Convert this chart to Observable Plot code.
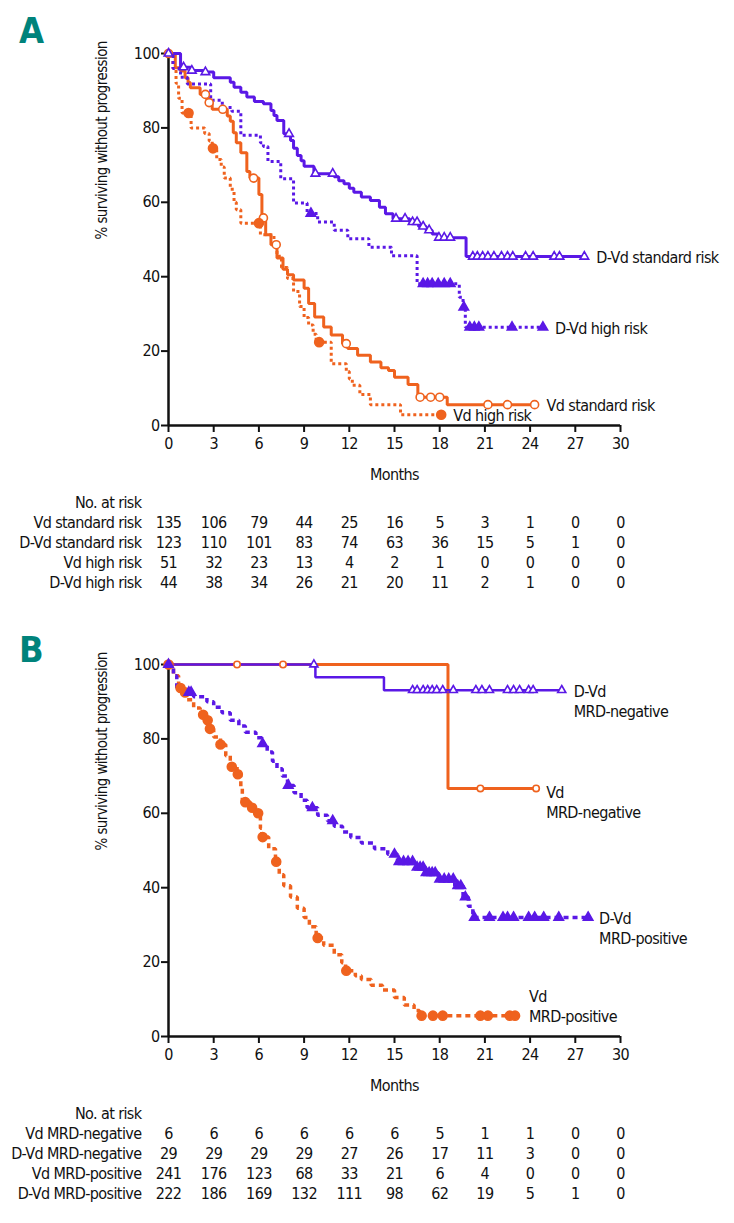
<!DOCTYPE html>
<html><head><meta charset="utf-8">
<script src="https://cdn.jsdelivr.net/npm/d3@7"></script>
<script src="https://cdn.jsdelivr.net/npm/@observablehq/plot@0.6"></script>
<style>
body{margin:0;background:#fff;font-family:"Liberation Sans Narrow","DejaVu Sans Condensed",sans-serif;}
.panel{position:relative;width:734px;height:611px;overflow:hidden;}
.tag{position:absolute;left:19px;top:13px;font-size:36px;font-weight:bold;color:#00837b;line-height:1;}
svg{display:block}
</style></head>
<body>
<div id="A" class="panel"><div class="tag">A</div></div>
<div id="B" class="panel"><div class="tag" style="top:21px">B</div></div>
<script>
const xTicks = [0,3,6,9,12,15,18,21,24,27,30];
const yTicks = [0,20,40,60,80,100];

// ---- Panel A: step data [months, % surviving], end of follow-up, censor times
const vdStdSteps = [[0,100],[0.45,96.2],[0.8,95.3],[1.1,93.5],[1.3,92.2],[1.45,90.8],[2.1,89.0],[2.55,86.8],[2.9,85.0],[3.9,83.2],[4.1,81.8],[4.3,78.7],[4.5,76.0],[4.8,73.3],[5.2,68.3],[5.4,66.5],[6.0,62.1],[6.2,55.8],[6.45,51.3],[6.8,48.6],[7.2,45.0],[7.6,42.0],[7.9,40.5],[8.3,39.1],[9.0,36.9],[9.3,32.8],[9.7,29.2],[10.3,26.5],[10.8,24.3],[11.55,22.0],[11.9,20.7],[12.55,18.9],[13.4,17.1],[14.1,15.5],[14.6,14.8],[15.0,13.0],[15.9,11.0],[16.55,7.6],[18.5,5.6]];
const vdStdEnd = 24.3;
const vdStdCensor = [0,2.45,2.7,3.6,5.65,6.3,7.15,11.8,16.7,17.4,18.0,21.2,22.5,24.3];

const dvdStdSteps = [[0,100],[0.8,96.3],[1.5,95.4],[2.3,95.0],[3.0,93.5],[4.1,92.3],[4.35,90.9],[4.8,89.6],[5.2,88.3],[5.7,87.1],[6.3,86.5],[6.8,84.7],[7.0,83.3],[7.2,82.0],[7.65,78.4],[8.1,76.6],[8.3,74.5],[8.55,72.6],[8.8,71.2],[9.0,69.7],[9.65,67.7],[11.0,66.9],[11.3,65.8],[11.65,65.0],[12.0,63.8],[12.3,62.7],[12.8,61.4],[13.4,60.5],[14.0,58.7],[14.4,56.9],[14.9,55.6],[16.0,54.7],[16.6,53.5],[17.1,52.5],[17.5,51.5],[17.9,50.5],[19.75,45.4]];
const dvdStdEnd = 27.6;
const dvdStdCensor = [0,1.0,1.55,2.45,8.0,9.75,10.9,15.1,15.7,16.2,16.5,16.9,17.3,17.95,18.3,18.7,20.2,20.5,20.85,21.2,21.6,22.1,22.5,22.85,23.7,24.2,25.6,25.95,27.6];

const vdHighSteps = [[0,100],[0.3,96],[0.5,92],[0.67,88],[0.9,84],[1.5,80],[2.4,78.5],[2.7,76.5],[2.9,74.5],[3.2,71.5],[3.5,69.5],[3.7,66.5],[4.1,63.5],[4.35,60],[4.5,58],[4.8,54.4],[6.1,51.3],[7.0,48.5],[7.2,45.5],[7.5,42.5],[7.9,39.5],[8.3,36],[8.7,32],[9.0,29],[9.3,27],[9.6,24.5],[9.8,22.4],[10.8,16.6],[11.8,14.5],[12.0,12.5],[12.2,10.8],[12.7,8.3],[13.4,5.6],[15.4,2.9]];
const vdHighEnd = 18.1;
const vdHighCensor = [1.33,2.95,6.0,10.0,18.1];

const dvdHighSteps = [[0,100],[0.3,96],[0.8,93.6],[1.25,91.8],[2.8,87.4],[3.57,85.5],[4.2,84.5],[4.8,78],[6.1,76],[6.3,75],[6.6,71],[7.45,66.3],[8.3,59.8],[9.2,57],[9.9,54.7],[11.0,52.5],[11.9,50.2],[13.3,47.9],[14.8,45.6],[16.5,38.1],[19.3,34.5],[19.55,31.8],[19.7,26.4]];
const dvdHighEnd = 24.85;
const dvdHighCensor = [9.45,16.9,17.2,17.5,17.9,18.3,18.7,19.6,20.0,20.3,20.6,22.8,24.85];

const riskRowsA = ["Vd standard risk","D-Vd standard risk","Vd high risk","D-Vd high risk"];
const riskVdStd   = [135,106,79,44,25,16,5,3,1,0,0];
const riskDvdStd  = [123,110,101,83,74,63,36,15,5,1,0];
const riskVdHigh  = [51,32,23,13,4,2,1,0,0,0,0];
const riskDvdHigh = [44,38,34,26,21,20,11,2,1,0,0];

// ---- Panel B
const vdNegSteps = [[0,100],[18.55,66.7]];
const vdNegEnd = 24.4;
const vdNegCensor = [4.55,7.6,20.7,24.4];

const dvdNegSteps = [[0,100],[9.75,96.6],[14.3,93.1]];
const dvdNegEnd = 26.1;
const dvdNegCensor = [9.65,16.2,16.5,16.9,17.2,17.5,17.8,18.2,18.9,20.4,20.8,21.3,22.5,22.9,23.3,23.9,24.2,26.1];

const vdPosSteps = [[0,100],[0.33,97],[0.67,93.7],[1.0,92.5],[1.2,90.5],[1.67,88.3],[2.1,86.5],[2.45,85],[2.67,82.7],[3.0,80.5],[3.45,78.5],[3.8,75.5],[4.1,72.5],[4.55,70.5],[4.8,67],[4.9,63],[5.45,61.5],[5.9,60],[6.1,56],[6.2,53.6],[6.65,50.5],[7.1,47],[7.35,43.5],[7.65,40.5],[8.1,37.5],[8.55,34.5],[9.0,32],[9.35,29.5],[9.8,26.5],[10.3,24.5],[11.0,22],[11.5,19.8],[11.75,17.7],[12.4,16.3],[12.8,15.3],[13.45,13.8],[14.2,12.5],[15.0,10.5],[15.65,8.5],[16.3,7],[16.65,5.6]];
const vdPosEnd = 23.0;
const vdPosCensor = [0,0.8,1.1,2.3,2.6,2.75,3.45,4.2,4.6,5.1,5.55,5.95,6.25,7.15,9.9,11.8,16.8,17.55,18.2,20.7,21.2,22.65,23.0];

const dvdPosSteps = [[0,100],[0.33,97],[0.55,93.5],[0.9,92.5],[1.67,91.3],[2.55,90],[3.0,88.5],[3.55,87],[4.1,85],[4.67,83.5],[5.1,81.8],[5.8,80.3],[6.2,78.7],[6.55,76.5],[6.9,74],[7.2,72],[7.55,70],[7.9,67.5],[8.33,65.5],[8.8,63.5],[9.2,61.5],[9.9,59.5],[10.55,58],[11.0,56.5],[11.55,55],[12.1,53.5],[12.8,52],[13.67,50.5],[14.55,49],[15.2,47],[16.3,45.5],[17.0,44],[17.9,42.3],[19.0,40.5],[19.55,37.5],[19.9,35],[20.2,32.0]];
const dvdPosEnd = 27.85;
const dvdPosCensor = [0,1.35,1.5,6.25,7.95,9.55,10.9,15.0,15.3,15.6,15.9,16.2,16.5,16.7,16.9,17.1,17.3,17.5,17.7,18.0,18.3,18.6,18.9,19.2,19.4,19.7,20.3,21.3,22.2,22.5,22.9,23.9,24.3,24.9,25.9,27.85];

const riskRowsB = ["Vd MRD-negative","D-Vd MRD-negative","Vd MRD-positive","D-Vd MRD-positive"];
const riskVdNeg  = [6,6,6,6,6,6,5,1,1,0,0];
const riskDvdNeg = [29,29,29,29,27,26,17,11,3,0,0];
const riskVdPos  = [241,176,123,68,33,21,6,4,0,0,0];
const riskDvdPos = [222,186,169,132,111,98,62,19,5,1,0];

// ---- styling
const PURPLE = "#5a18e6", ORANGE = "#ef621e";
const FONT = '"Liberation Sans Narrow","DejaVu Sans Condensed",sans-serif';
const STYLE = {fontFamily: FONT, fontSize: "16px", color: "#111", background: "transparent", overflow: "visible", letterSpacing: "-0.6px"};

function survAt(steps, t) { let v = steps[0][1]; for (const [tt, vv] of steps) if (tt <= t) v = vv; return v; }

function curveChart(series) {
  const marks = [
    Plot.axisX({ticks: xTicks, tickSize: 7, tickPadding: 5, strokeWidth: 2, fontSize: 16, label: null}),
    Plot.axisY({ticks: yTicks, tickSize: 7, tickPadding: 2, strokeWidth: 2, fontSize: 16, label: null}),
    Plot.ruleX([0], {strokeWidth: 2.5}),
    Plot.ruleY([0], {strokeWidth: 2.5})
  ];
  for (const s of series) {
    const pts = s.steps.map(([t, v]) => ({t, v}));
    pts.push({t: s.end, v: s.steps[s.steps.length - 1][1]});
    marks.push(Plot.line(pts, {x: "t", y: "v", curve: "step-after", stroke: s.color, strokeWidth: s.width,
      strokeDasharray: s.dash, strokeLinecap: "butt", strokeLinejoin: "miter"}));
  }
  for (const s of series) {
    const c = s.censor.map(t => ({t, v: survAt(s.steps, t)}));
    marks.push(Plot.dot(c, {x: "t", y: "v", symbol: s.symbol, r: s.r, fill: s.open ? "white" : s.color,
      stroke: s.color, strokeWidth: 1.6}));
  }
  for (const s of series) {
    marks.push(Plot.text([{t: s.end, v: s.steps[s.steps.length - 1][1], label: s.label}],
      {x: "t", y: "v", text: "label", dx: s.ldx, dy: s.ldy || 0, textAnchor: "start", lineHeight: 1.25, fontSize: 16, fill: "#111"}));
  }
  marks.push(Plot.text(["% surviving without progression"], {text: d => d, frameAnchor: "left", rotate: -90, dx: -66, fontSize: 15, fill: "#111"}));
  marks.push(Plot.text(["Months"], {text: d => d, frameAnchor: "bottom", dy: 54, fontSize: 16, fill: "#111"}));
  return Plot.plot({
    width: 734, height: 490, marginLeft: 168, marginRight: 114, marginTop: 53, marginBottom: 65,
    style: STYLE, x: {domain: [0, 30]}, y: {domain: [0, 100]}, marks
  });
}

function riskChart(rows, counts) {
  const cells = [];
  rows.forEach((r, i) => counts[i].forEach((n, j) => cells.push({row: r, t: xTicks[j], n})));
  return Plot.plot({
    width: 734, height: 121, marginLeft: 168, marginRight: 114, marginTop: 2, marginBottom: 19,
    style: STYLE,
    x: {domain: [0, 30], axis: null},
    y: {type: "point", domain: ["No. at risk", ...rows], padding: 0.5},
    marks: [
      Plot.axisY({tickSize: 0, tickPadding: 27, fontSize: 16, label: null, fill: "#111"}),
      Plot.text(cells, {x: "t", y: "row", text: "n", fontSize: 16, fill: "#111"})
    ]
  });
}

const seriesA = [
  {label: "Vd standard risk", steps: vdStdSteps, end: vdStdEnd, censor: vdStdCensor, color: ORANGE, width: 3, symbol: "circle", r: 4, open: true, ldx: 12},
  {label: "D-Vd standard risk", steps: dvdStdSteps, end: dvdStdEnd, censor: dvdStdCensor, color: PURPLE, width: 3, symbol: "triangle", r: 3.2, open: true, ldx: 12},
  {label: "Vd high risk", steps: vdHighSteps, end: vdHighEnd, censor: vdHighCensor, color: ORANGE, width: 3, dash: "3,3", symbol: "circle", r: 4.5, open: false, ldx: 12},
  {label: "D-Vd high risk", steps: dvdHighSteps, end: dvdHighEnd, censor: dvdHighCensor, color: PURPLE, width: 3, dash: "3,3", symbol: "triangle", r: 3.5, open: false, ldx: 12}
];
const seriesB = [
  {label: "Vd\nMRD-negative", steps: vdNegSteps, end: vdNegEnd, censor: vdNegCensor, color: ORANGE, width: 3, symbol: "circle", r: 3.2, open: true, ldx: 10, ldy: 13},
  {label: "D-Vd\nMRD-negative", steps: dvdNegSteps, end: dvdNegEnd, censor: dvdNegCensor, color: PURPLE, width: 2.5, symbol: "triangle", r: 3, open: true, ldx: 12, ldy: 10},
  {label: "Vd\nMRD-positive", steps: vdPosSteps, end: vdPosEnd, censor: vdPosCensor, color: ORANGE, width: 3.5, dash: "5,4", symbol: "circle", r: 4.5, open: false, ldx: 14, ldy: -10},
  {label: "D-Vd\nMRD-positive", steps: dvdPosSteps, end: dvdPosEnd, censor: dvdPosCensor, color: PURPLE, width: 3.5, dash: "5,4", symbol: "triangle", r: 3.5, open: false, ldx: 11, ldy: 10}
];

const A = document.getElementById("A");
A.append(curveChart(seriesA), riskChart(riskRowsA, [riskVdStd, riskDvdStd, riskVdHigh, riskDvdHigh]));
const B = document.getElementById("B");
B.append(curveChart(seriesB), riskChart(riskRowsB, [riskVdNeg, riskDvdNeg, riskVdPos, riskDvdPos]));
</script>
</body></html>
